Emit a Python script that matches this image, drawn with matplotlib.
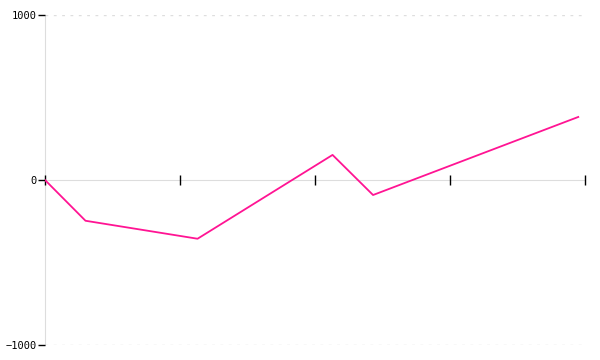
import matplotlib
matplotlib.use("Agg")
import matplotlib.pyplot as plt

x_values = [0, 0.30, 1.13, 2.13, 2.43, 3.95]
y_values = [0, -247, -356, 152, -91, 382]
x_ticks = [0, 1, 2, 3, 4]
y_ticks = [-1000, 0, 1000]

fig = plt.figure(figsize=(6, 3.6), dpi=100)
ax = fig.add_axes([45 / 600, 15 / 360, 540 / 600, 330 / 360])

for yv in [-1000, 1000]:
    ax.axhline(yv, color="#dedede", linewidth=1, dashes=(2, 4), zorder=0)

ax.plot(x_values, y_values, color="#ff1493", linewidth=1.3, zorder=3)

ax.set_xlim(0, 4)
ax.set_ylim(-1000, 1000)
ax.set_xticks(x_ticks)
ax.set_xticklabels([])
ax.set_yticks(y_ticks)

ax.spines["top"].set_visible(False)
ax.spines["right"].set_visible(False)
ax.spines["bottom"].set_position(("data", 0))
ax.spines["bottom"].set_color("#dddddd")
ax.spines["left"].set_color("#dddddd")
ax.spines["bottom"].set_zorder(0.5)
ax.spines["left"].set_zorder(0.5)

ax.tick_params(axis="x", direction="inout", length=7, width=1, color="black")
ax.tick_params(axis="y", direction="out", length=5, width=1, color="black",
               labelsize=7.5, pad=1)
for lab in ax.get_yticklabels():
    lab.set_family("DejaVu Sans Mono")

fig.savefig("out.png", dpi=100)
